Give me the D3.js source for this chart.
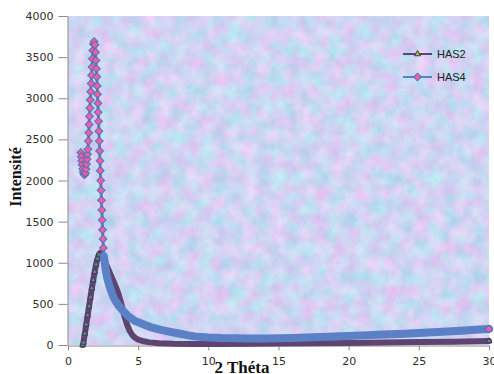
<!DOCTYPE html>
<html>
<head>
<meta charset="utf-8">
<script src="https://cdn.jsdelivr.net/npm/d3@7"></script>
<style>
  html, body { margin: 0; padding: 0; background: #ffffff; }
  svg { display: block; }
</style>
</head>
<body>
<svg id="chart" width="494" height="374"></svg>
<script>
// ---------- data ----------
const xTicks = [0, 5, 10, 15, 20, 25, 30];
const yTicks = [0, 500, 1000, 1500, 2000, 2500, 3000, 3500, 4000];
const seriesNames = ["HAS2", "HAS4"];
const xTitle = "2 Théta";
const yTitle = "Intensité";

const has2Theta = [1.05, 1.1, 1.2, 1.3, 1.4, 1.5, 1.6, 1.7, 1.8, 1.9, 2.0, 2.1, 2.2, 2.3, 2.4, 2.5, 2.6, 2.7, 2.8, 3.0, 3.2, 3.4, 3.6, 3.8, 4.0, 4.2, 4.4, 4.6, 4.8, 5.0, 5.4, 5.8, 6.5, 7.5, 9, 11, 13, 15, 17.5, 20, 22.5, 25, 27.5, 30];
const has2Int   = [0, 30, 140, 250, 360, 470, 580, 690, 790, 890, 980, 1050, 1100, 1120, 1110, 1080, 1040, 990, 950, 870, 790, 710, 620, 500, 360, 250, 170, 115, 85, 65, 45, 32, 22, 15, 11, 12, 15, 18, 21, 25, 30, 35, 41, 48];

const has4Theta = [0.92, 0.95, 0.98, 1.01, 1.05, 1.09, 1.14, 1.19, 1.24, 1.28, 1.32, 1.36, 1.39,
  1.42, 1.45, 1.48, 1.5, 1.53, 1.56, 1.59, 1.62, 1.65, 1.68, 1.71, 1.74, 1.77, 1.81, 1.86,
  1.92, 1.96, 1.99, 2.02, 2.05, 2.08, 2.1, 2.13, 2.15, 2.18, 2.2, 2.23, 2.25, 2.28, 2.3, 2.33, 2.36, 2.38, 2.41, 2.44, 2.46, 2.49, 2.52, 2.55,
  2.6, 2.7, 2.8, 3.0, 3.2, 3.35, 3.6, 3.9, 4.3, 4.8, 5.5, 6.0, 6.7, 7.3, 7.9, 8.5, 9, 10, 11, 12, 13, 14, 15, 16, 17, 18, 19, 20, 21, 22, 23, 24, 25, 26, 27, 28, 29, 30];
const has4Int   = [2340, 2290, 2240, 2190, 2140, 2100, 2075, 2070, 2090, 2140, 2200, 2260, 2320,
  2380, 2480, 2580, 2680, 2780, 2880, 2980, 3080, 3180, 3280, 3380, 3480, 3580, 3660, 3690,
  3650, 3560, 3460, 3360, 3260, 3150, 3050, 2940, 2830, 2720, 2600, 2480, 2360, 2240, 2120, 2000, 1880, 1760, 1640, 1520, 1400, 1290, 1180, 1080,
  1020, 900, 810, 690, 600, 546, 480, 420, 350, 290, 243, 210, 180, 160, 140, 120, 105, 92, 85, 82, 80, 80, 82, 86, 92, 98, 104, 110, 117, 124, 131, 138, 146, 155, 164, 174, 184, 194];

// ---------- layout ----------
const plot = { left: 68, right: 489, top: 16, bottom: 345 };
const colors = {
  has2Line: "#5e4470", has2MarkFill: "#4f9a78", has2MarkStroke: "#4b2f5e",
  has4Line: "#5b80c6", has4MarkFill: "#f2609a", has4MarkStroke: "#4d72c0",
  axis: "#8a8a8a", text: "#2e2e2e"
};

const svg = d3.select("#chart");
const x = d3.scaleLinear().domain([0, 30]).range([plot.left, plot.right]);
const y = d3.scaleLinear().domain([0, 4000]).range([plot.bottom, plot.top]);

// textured background (soft blue / pink mottled)
const defs = svg.append("defs");
const filt = defs.append("filter").attr("id", "tex")
  .attr("filterUnits", "objectBoundingBox")
  .attr("x", 0).attr("y", 0).attr("width", 1).attr("height", 1)
  .attr("color-interpolation-filters", "sRGB");
filt.append("feTurbulence").attr("type", "fractalNoise")
  .attr("baseFrequency", "0.07").attr("numOctaves", 3).attr("seed", 7).attr("result", "n");
filt.append("feColorMatrix").attr("in", "n").attr("type", "matrix")
  .attr("values", [
    0.36, 0.08, 0, 0, 0.59,
   -0.14, 0.16, 0, 0, 0.825,
    0.04, 0.06, 0, 0, 0.90,
    0, 0, 0, 0, 1].join(" "))
  .attr("result", "c");
filt.append("feComposite").attr("in", "c").attr("in2", "SourceGraphic").attr("operator", "in");

svg.append("rect")
  .attr("x", plot.left).attr("y", plot.top)
  .attr("width", plot.right - plot.left).attr("height", plot.bottom - plot.top)
  .attr("fill", "#c6d0f0")
  .attr("filter", "url(#tex)");

// ---------- axes ----------
const fmt = d3.format("d");
const yAxis = svg.append("g")
  .attr("transform", `translate(${plot.left - 0.5},0)`)
  .call(d3.axisLeft(y).tickValues(yTicks).tickFormat(fmt).tickSize(9).tickPadding(5).tickSizeOuter(0));
const xAxis = svg.append("g")
  .attr("transform", `translate(0,${plot.bottom + 0.5})`)
  .call(d3.axisBottom(x).tickValues(xTicks).tickFormat(fmt).tickSize(5).tickPadding(7).tickSizeOuter(0));
[yAxis, xAxis].forEach(a => {
  a.selectAll("path, line").attr("stroke", colors.axis);
  a.selectAll("text").attr("fill", colors.text)
    .style("font-family", "'DejaVu Sans', Verdana, sans-serif").style("font-size", "11px");
});

// ---------- series ----------
const has2 = has2Theta.map((t, i) => ({ t, v: has2Int[i] }));
const has4 = has4Theta.map((t, i) => ({ t, v: has4Int[i] }));
const line = d3.line().x(d => x(d.t)).y(d => y(d.v));

// HAS2 (drawn first)
svg.append("path").datum(has2).attr("d", line)
  .attr("fill", "none").attr("stroke", colors.has2Line)
  .attr("stroke-width", 6).attr("stroke-linejoin", "round").attr("stroke-linecap", "round");
const tri = d3.symbol(d3.symbolTriangle, 14);
svg.append("g").selectAll("path")
  .data(has2.filter((d, i) => d.t <= 2.2 || i === has2.length - 1))
  .join("path")
  .attr("transform", d => `translate(${x(d.t)},${y(d.v)})`)
  .attr("d", tri)
  .attr("fill", colors.has2MarkFill).attr("stroke", colors.has2MarkStroke).attr("stroke-width", 1);

// HAS4
const tailStart = 2.55;
svg.append("path").datum(has4.filter(d => d.t >= tailStart)).attr("d", line)
  .attr("fill", "none").attr("stroke", colors.has4Line)
  .attr("stroke-width", 8).attr("stroke-linejoin", "round").attr("stroke-linecap", "round");
svg.append("path").datum(has4).attr("d", line)
  .attr("fill", "none").attr("stroke", colors.has4Line)
  .attr("stroke-width", 3).attr("stroke-linejoin", "round");
const dia = d3.symbol(d3.symbolSquare, 30);
svg.append("g").selectAll("path")
  .data(has4.filter((d, i) => d.t < tailStart || i === has4.length - 1))
  .join("path")
  .attr("transform", d => `translate(${x(d.t)},${y(d.v)}) rotate(45)`)
  .attr("d", dia)
  .attr("fill", colors.has4MarkFill).attr("stroke", colors.has4MarkStroke).attr("stroke-width", 1);

// ---------- titles ----------
svg.append("text")
  .attr("x", 242).attr("y", 373)
  .attr("text-anchor", "middle")
  .style("font-family", "'Liberation Serif', 'Times New Roman', serif")
  .style("font-weight", "bold").style("font-size", "17px")
  .attr("fill", "#111")
  .text(xTitle);
svg.append("text")
  .attr("transform", "translate(21,177) rotate(-90)")
  .attr("text-anchor", "middle")
  .style("font-family", "'Liberation Serif', 'Times New Roman', serif")
  .style("font-weight", "bold").style("font-size", "16px")
  .attr("fill", "#111")
  .text(yTitle);

// ---------- legend ----------
const legend = svg.append("g");
const legY = [54, 77];
seriesNames.forEach((name, i) => {
  const g = legend.append("g").attr("transform", `translate(0,${legY[i]})`);
  g.append("line").attr("x1", 403).attr("x2", 432).attr("y1", 0).attr("y2", 0)
    .attr("stroke", i === 0 ? colors.has2Line : colors.has4Line).attr("stroke-width", 2);
  g.append("path")
    .attr("transform", i === 0 ? "translate(417.5,0)" : "translate(417.5,0) rotate(45)")
    .attr("d", i === 0 ? d3.symbol(d3.symbolTriangle, 16)() : d3.symbol(d3.symbolSquare, 30)())
    .attr("fill", i === 0 ? "#9cc43a" : colors.has4MarkFill)
    .attr("stroke", i === 0 ? colors.has2MarkStroke : colors.has4MarkStroke).attr("stroke-width", 1);
  g.append("text").attr("x", 437).attr("y", 4)
    .style("font-family", "'Liberation Sans', Arial, sans-serif").style("font-size", "11px")
    .attr("fill", "#222")
    .text(name);
});
</script>
</body>
</html>
